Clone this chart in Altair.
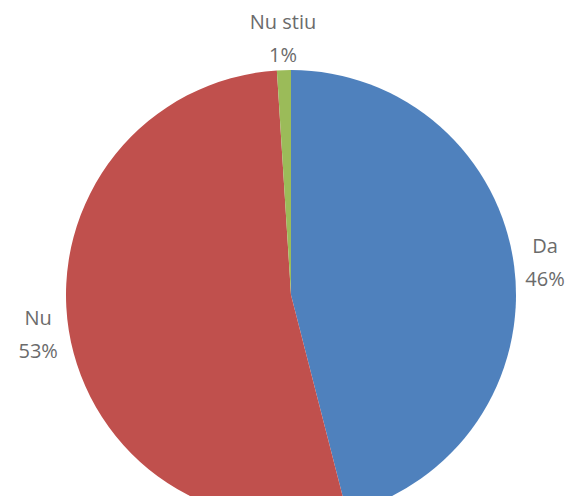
import altair as alt
import pandas as pd

categories = ["Da", "Nu", "Nu stiu"]
values = [46, 53, 1]
labels = ["Da\n46%", "Nu\n53%", "Nu stiu\n1%"]
colors = ["#4F81BD", "#C0504D", "#9BBB59"]

df = pd.DataFrame({"cat": categories, "val": values, "label": labels,
                   "ord": list(range(len(categories)))})

base = alt.Chart(df).encode(
    theta=alt.Theta("val:Q", stack=True),
    order=alt.Order("ord:Q"),
)

pie = base.mark_arc(x=283, y=287, outerRadius=225).encode(
    color=alt.Color("cat:N", scale=alt.Scale(domain=categories, range=colors), legend=None),
)

text = base.mark_text(
    x=283, y=287, radius=256, dy=-16, fontSize=20, font="Open Sans", color="#6b6b6b",
    lineBreak="\n", lineHeight=33, align="center", baseline="middle",
).encode(text="label:N")

chart = (pie + text).properties(
    width=558, height=488, autosize=alt.AutoSizeParams(type="none"), padding=0
).configure_view(stroke=None)

chart.save("out.html", embed_options={"renderer": "svg", "actions": False})
